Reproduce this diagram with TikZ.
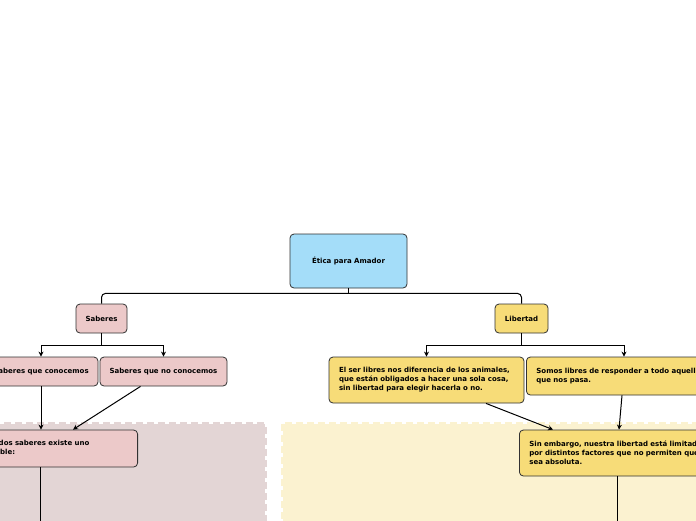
\documentclass[tikz,border=0pt]{standalone}
\usepackage{fontspec}
\setmainfont{DejaVu Sans}
\usetikzlibrary{arrows.meta,calc}
\definecolor{rootblue}{RGB}{164,221,249}
\definecolor{saberpink}{RGB}{236,201,201}
\definecolor{libyellow}{RGB}{247,220,120}
\definecolor{pinkzone}{RGB}{227,213,213}
\definecolor{yellowzone}{RGB}{251,242,208}
\definecolor{boxline}{RGB}{50,50,50}

\begin{document}
\begin{tikzpicture}[x=1pt,y=-1pt]
\tikzstyle{box}=[draw=boxline,line width=0.8pt,rounded corners=4pt,font=\bfseries\fontsize{7}{9}\selectfont,inner sep=0pt]
\tikzstyle{textbox}=[box,align=left,inner xsep=10pt]
\tikzstyle{link}=[line width=1pt,black]
\tikzstyle{arrow}=[link,-{Stealth[length=5pt,width=5pt]}]
\tikzstyle{zone}=[line width=3pt,dash pattern=on 7pt off 4pt]
\useasboundingbox (0,0) rectangle (696,520);
\clip (0,0) rectangle (696,520);
\fill[white] (0,0) rectangle (696,520);
\draw[zone,fill=pinkzone,draw=pinkzone] (-100,423.5) rectangle (265,620);
\draw[zone,fill=yellowzone,draw=yellowzone] (282.5,423.5) rectangle (800,620);
\node[box,fill=rootblue,minimum width=117,minimum height=54] (root) at (348.5,261) {Ética para Amador};
\node[box,fill=saberpink,minimum width=51,minimum height=29] (saberes) at (101.5,318.5) {Saberes};
\node[box,fill=libyellow,minimum width=53,minimum height=29] (libertad) at (521.5,318.5) {Libertad};
\node[box,fill=saberpink,minimum width=114,minimum height=29] (conocemos) at (41,371.5) {Saberes que conocemos};
\node[box,fill=saberpink,minimum width=127,minimum height=29] (noconocemos) at (163.5,371.5) {Saberes que no conocemos};
\node[textbox,fill=saberpink,text width=173.5,minimum height=37,anchor=east] (entre) at (138,448.5) {De entre todos saberes existe uno\\imprescindible:};
\node[textbox,fill=libyellow,text width=175,minimum height=46] (libres) at (426.5,380) {El ser libres nos diferencia de los animales,\\que están obligados a hacer una sola cosa,\\sin libertad para elegir hacerla o no.};
\node[textbox,fill=libyellow,text width=190,minimum height=38,anchor=west] (responder) at (526,376) {Somos libres de responder a todo aquello\\que nos pasa.};
\node[textbox,fill=libyellow,text width=190,minimum height=46,anchor=west] (limitada) at (519,453) {Sin embargo, nuestra libertad está limitada\\por distintos factores que no permiten que\\sea absoluta.};
\coordinate (entreend) at ($(entre.south east)+(-98,80)$);
\coordinate (limitadaend) at ($(limitada.south west)+(98,80)$);
\draw[link] (root.south) -- ++(0,5);
\draw[link,rounded corners=4pt] (saberes.north) |- ($(root.south)+(0,5)$) -| (libertad.north);
\draw[link] (saberes.south) -- ++(0,12) coordinate (s1);
\draw[arrow] (s1) -| (conocemos.north);
\draw[arrow] (s1) -| (noconocemos.north);
\draw[link] (libertad.south) -- ++(0,12) coordinate (l1);
\draw[arrow] (l1) -| (libres.north);
\draw[arrow] (l1) -| ($(responder.north west)+(98,0)$);
\draw[arrow] (conocemos.south) -- (conocemos.south |- entre.north);
\draw[arrow] ($(noconocemos.south)+(-23,0)$) -- ($(entre.north east)+(-65,0)$);
\draw[arrow] ($(libres.south)+(59.5,0)$) -- ($(limitada.north west)+(34,0)$);
\draw[arrow] ($(responder.south west)+(96,0)$) -- ($(limitada.north west)+(100,0)$);
\draw[link] ($(entre.south east)+(-98,0)$) -- (entreend);
\draw[link] ($(limitada.south west)+(98,0)$) -- (limitadaend);
\end{tikzpicture}
\end{document}
